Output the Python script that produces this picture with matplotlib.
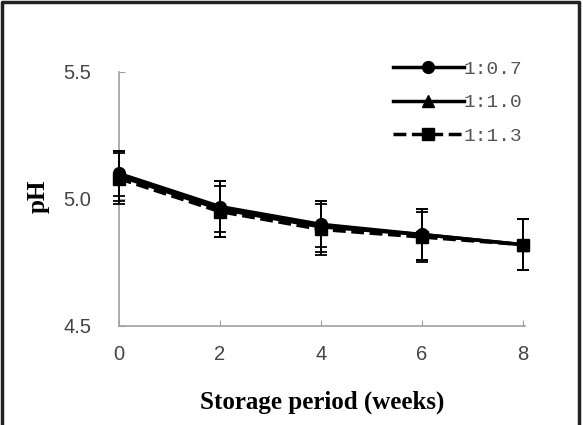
import numpy as np
import matplotlib
matplotlib.use('Agg')
import matplotlib.pyplot as plt
from matplotlib.lines import Line2D

# storage period (weeks) and pH readings for each ratio
weeks = [0, 2, 4, 6, 8]
labels = ['1:0.7', '1:1.0', '1:1.3']
ph_07 = [5.10, 4.97, 4.90, 4.86, 4.82]
ph_10 = [5.09, 4.96, 4.89, 4.86, 4.82]
ph_13 = [5.08, 4.95, 4.88, 4.85, 4.82]
err_07 = [0.09, 0.10, 0.09, 0.10, 0.10]
err_10 = [0.10, 0.11, 0.10, 0.10, 0.10]
err_13 = [0.10, 0.10, 0.10, 0.10, 0.10]

fig = plt.figure(figsize=(5.83, 4.25), dpi=100)
ax = fig.add_axes([0.204, 0.233, 0.697, 0.598])

series = [(ph_07, err_07, 'o', '-'), (ph_10, err_10, '^', '-'), (ph_13, err_13, 's', '--')]
for (vals, err, mk, ls), lab in zip(series, labels):
    ax.errorbar(weeks, vals, yerr=err, color='black', marker=mk, markersize=8.5,
                linestyle=ls, linewidth=2.5, elinewidth=1.3, capsize=4, capthick=1.3,
                label=lab, clip_on=False, zorder=3)

ax.set_xlim(0, 8.05)
ax.set_ylim(4.5, 5.5)
ax.set_xticks(weeks)
ax.set_yticks([4.5, 5.0, 5.5])
ax.set_yticklabels(['4.5', '5.0', '5.5'])

for side in ['top', 'right']:
    ax.spines[side].set_visible(False)
for side in ['left', 'bottom']:
    ax.spines[side].set_color('#a0a0a0')
    ax.spines[side].set_linewidth(1.2)
ax.tick_params(axis='x', direction='in', length=4, color='#a0a0a0', pad=14,
               labelsize=14.5, labelcolor='#444444')
ax.tick_params(axis='y', direction='in', length=4, color='#a0a0a0', pad=20,
               labelsize=14.5, labelcolor='#444444')
for t in ax.get_xticklabels() + ax.get_yticklabels():
    t.set_fontfamily('Liberation Sans')

ax.set_xlabel('Storage period (weeks)', fontfamily='Liberation Serif', fontweight='bold',
              fontsize=18, labelpad=19)
ax.text(-0.2, 0.51, 'pH', transform=ax.transAxes, rotation=90, ha='center', va='center',
        fontfamily='Liberation Serif', fontweight='bold', fontsize=18)

handles, labs = ax.get_legend_handles_labels()
handles = [h[0] for h in handles]
leg = ax.legend(handles, labs, loc='upper right', bbox_to_anchor=(1.027, 1.099), frameon=False,
                handlelength=3.65, handletextpad=0.0, labelspacing=0.82, borderaxespad=0.3,
                prop={'family': 'Liberation Mono', 'size': 14})
for t in leg.get_texts():
    t.set_color('#555555')

# border on left, top and right of the figure
bx0, bx1, by1 = 2 / 583, 579 / 583, 1 - 2 / 425
fig.add_artist(Line2D([bx0, bx0, bx1, bx1], [0, by1, by1, 0], transform=fig.transFigure,
                      color='#222222', linewidth=2.5))

fig.savefig('out.png', dpi=100)
